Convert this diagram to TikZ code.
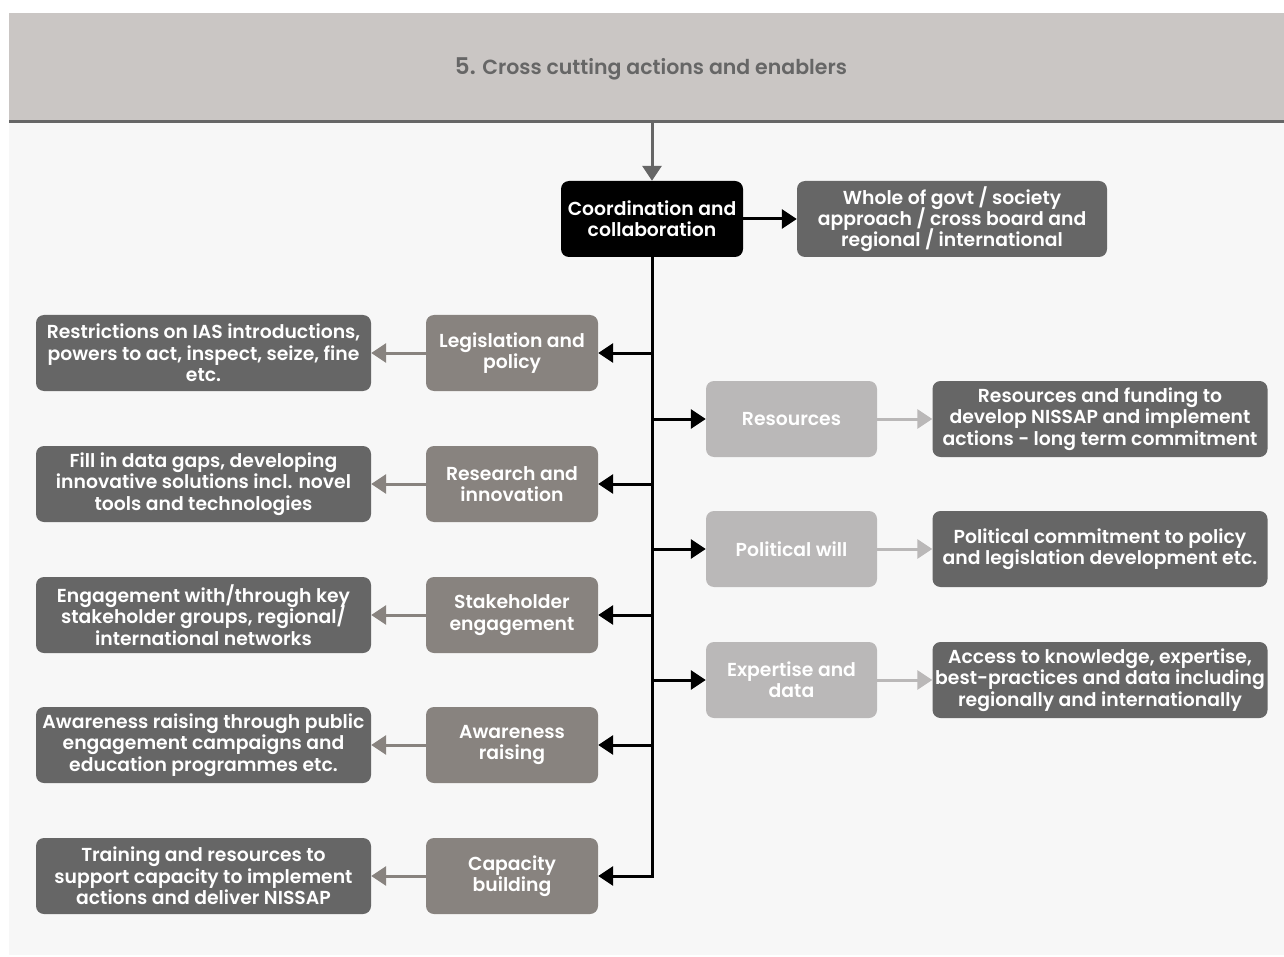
\documentclass[tikz,border=0pt]{standalone}
\usepackage{fontspec}
\setmainfont{Poppins}[BoldFont={Poppins SemiBold}]
\usetikzlibrary{arrows.meta}
\definecolor{headbg}{HTML}{CAC6C4}
\definecolor{pagebg}{HTML}{F7F7F7}
\definecolor{dk}{HTML}{666666}
\definecolor{md}{HTML}{88837F}
\definecolor{lt}{HTML}{BAB8B8}
% box text: fixed line pitch even with tall glyphs such as '/'
\newcommand{\boxtextfont}{\bfseries\fontsize{18.8}{21.3}\selectfont\setlength{\lineskiplimit}{-20pt}}
\tikzset{
  box/.style={rounded corners=8pt, inner sep=0pt, align=center, text=white,
    font=\boxtextfont},
  detail/.style={box, fill=dk, minimum width=335pt, minimum height=76pt},
  topic/.style={box, fill=md, minimum width=172pt, minimum height=76pt},
  enabler/.style={box, fill=lt, minimum width=171pt, minimum height=76pt},
  link/.style={line width=3pt, -{Triangle[length=15pt,width=19pt]}},
  blacklink/.style={link, black},
}
\begin{document}
\begin{tikzpicture}[x=1pt,y=-1pt]
  \useasboundingbox[fill=white] (0,0) rectangle (1284,957);
  % page background and header band
  \fill[pagebg] (9,122) rectangle (1284,955);
  \fill[headbg] (9,13) rectangle (1284,122);
  \draw[dk, line width=3pt] (9,122) -- (1284,122);
  \node[text=dk, font=\bfseries\fontsize{20.5}{24}\selectfont] (title) at (651,69)
    {{\fontsize{23}{24}\selectfont 5.} Cross cutting actions and enablers};
  \coordinate (hb) at (652,122);

  % central coordination box and its outcome
  \node[box, fill=black, minimum width=182pt, minimum height=76pt] (coord) at (652,219)
    {Coordination and\\collaboration};
  \node[detail, minimum width=310pt] (whole) at (952,219)
    {Whole of govt / society\\approach / cross board and\\regional / international};
  \draw[link, dk] (hb) -- (coord.north);
  \draw[blacklink] (coord.east) -- (whole.west);

  % left column
  \node[topic] (leg) at (512,353) {Legislation and\\policy};
  \node[topic] (res) at (512,484) {Research and\\innovation};
  \node[topic] (stk) at (512,615) {Stakeholder\\engagement};
  \node[topic] (awa) at (512,745) {Awareness\\raising};
  \node[topic] (cap) at (512,876) {Capacity\\building};

  \node[detail] (legd) at (203.5,353) {Restrictions on IAS introductions,\\powers to act, inspect, seize, fine\\etc.};
  \node[detail] (resd) at (203.5,484) {Fill in data gaps, developing\\innovative solutions incl. novel\\tools and technologies};
  \node[detail] (stkd) at (203.5,615) {Engagement with/through key\\stakeholder groups, regional/\\international networks};
  \node[detail] (awad) at (203.5,745) {Awareness raising through public\\engagement campaigns and\\education programmes etc.};
  \node[detail] (capd) at (203.5,876) {Training and resources to\\support capacity to implement\\actions and deliver NISSAP};

  % right column
  \node[enabler] (rsc) at (791.5,419) {Resources};
  \node[enabler] (pol) at (791.5,549) {Political will};
  \node[enabler] (exp) at (791.5,680) {Expertise and\\data};

  \node[detail] (rscd) at (1100,419) {Resources and funding to\\develop NISSAP and implement\\actions - long term commitment};
  \node[detail] (pold) at (1100,549) {Political commitment to policy\\and legislation development etc.};
  \node[detail] (expd) at (1100,680) {Access to knowledge, expertise,\\best-practices and data including\\regionally and internationally};

  % trunk
  \coordinate (tb) at (652,876);
  \draw[black, line width=3pt] (coord.south) -- (tb);
  \foreach \n in {leg,res,stk,awa}{
    \draw[blacklink] (coord.south |- \n.east) -- (\n.east);
  }
  \draw[blacklink, line cap=rect] (tb) -- (cap.east);
  \foreach \n in {rsc,pol,exp}{
    \draw[blacklink] (coord.south |- \n.west) -- (\n.west);
  }

  % topic to detail
  \foreach \n in {leg,res,stk,awa,cap}{
    \draw[link, md] (\n.west) -- (\n d.east);
  }
  \foreach \n in {rsc,pol,exp}{
    \draw[link, lt] (\n.east) -- (\n d.west);
  }
\end{tikzpicture}
\end{document}
